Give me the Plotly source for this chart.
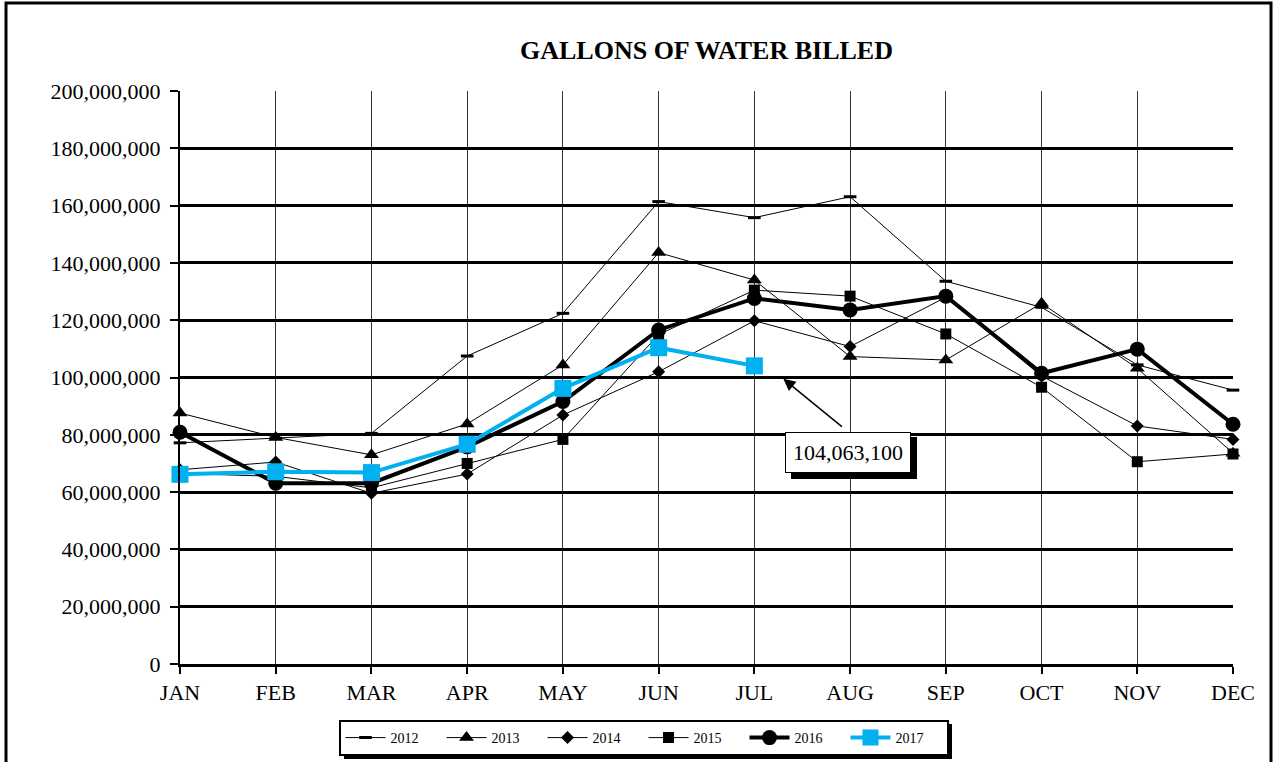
import plotly.graph_objects as go

months = ["JAN", "FEB", "MAR", "APR", "MAY", "JUN", "JUL", "AUG", "SEP", "OCT", "NOV", "DEC"]

v2012 = [77.2, 78.8, 80.5, 107.5, 122.4, 161.4, 155.8, 163.1, 133.6, 124.5, 104.4, 95.6]
v2013 = [87.6, 79.1, 73.0, 83.8, 104.4, 143.6, 134.0, 107.3, 106.1, 125.9, 103.2, 73.6]
v2014 = [67.8, 70.5, 59.6, 66.3, 86.9, 102.0, 119.8, 110.8, 128.0, 100.5, 83.1, 78.4]
v2015 = [66.5, 65.5, 61.5, 70.0, 78.4, 115.0, 130.5, 128.4, 115.2, 96.6, 70.6, 73.3]
v2016 = [80.9, 63.1, 63.1, 75.8, 91.6, 116.6, 127.6, 123.6, 128.4, 101.5, 109.9, 83.7]
v2017 = [66.2, 67.1, 66.8, 76.7, 96.2, 110.4, 104.0631]

annot_value = 104063100

FONT = "Liberation Serif"
BLUE = "#00B0F0"

def gal(vals):
    return [v * 1e6 for v in vals]

series = [
    ("2012", v2012, dict(symbol="line-ew", size=9, line=dict(width=3, color="black"), color="black"), dict(color="black", width=1)),
    ("2013", v2013, dict(symbol="triangle-up", size=13, color="black"), dict(color="black", width=1)),
    ("2014", v2014, dict(symbol="diamond", size=10, color="black"), dict(color="black", width=1)),
    ("2015", v2015, dict(symbol="square", size=11, color="black"), dict(color="black", width=1)),
    ("2016", v2016, dict(symbol="circle", size=15, color="black"), dict(color="black", width=4)),
    ("2017", v2017, dict(symbol="square", size=17, color=BLUE), dict(color=BLUE, width=4)),
]

fig = go.Figure()
for name, vals, mk, ln in series:
    fig.add_trace(go.Scatter(
        x=list(range(len(vals))), y=gal(vals), name=name, mode="lines+markers",
        marker=mk, line=ln, cliponaxis=False,
    ))

W, H = 1274, 762
L, R, T, B = 180, 1233, 91, 664

def px_x(p):
    return (p - L) / (R - L)
def px_y(p):
    return (B - p) / (B - T)

# page border
fig.add_shape(type="rect", xref="paper", yref="paper",
              x0=px_x(6), x1=px_x(1271), y0=px_y(790), y1=px_y(3),
              line=dict(color="black", width=3), fillcolor="rgba(0,0,0,0)", layer="below")
# legend shadow
fig.add_shape(type="rect", xref="paper", yref="paper",
              x0=px_x(344), x1=px_x(952), y0=px_y(759), y1=px_y(724),
              line=dict(width=0), fillcolor="black", layer="below")
# annotation box shadow
fig.add_shape(type="rect", xref="paper", yref="paper",
              x0=px_x(791), x1=px_x(917), y0=px_y(479), y1=px_y(437),
              line=dict(width=0), fillcolor="black", layer="above")

# annotation box
box_x = 6 + (848 - 754) / 95.7
box_y = (664 - 452) / 2.865 * 1e6
fig.add_annotation(x=box_x, y=box_y, xref="x", yref="y", text=f"{annot_value:,}",
                   showarrow=False, font=dict(family=FONT, size=22, color="black"),
                   bgcolor="white", bordercolor="black", borderwidth=1, borderpad=7)
# arrow
fig.add_annotation(x=6, y=annot_value, xref="x", yref="y", text="",
                   showarrow=True, arrowhead=2, arrowsize=1.6, arrowwidth=1.5, arrowcolor="black",
                   xshift=29, yshift=-13, ax=60, ay=49, standoff=0)

fig.update_layout(
    width=W, height=H,
    paper_bgcolor="white", plot_bgcolor="white",
    margin=dict(l=L, r=W - R, t=T, b=H - B, autoexpand=False),
    title=dict(text="GALLONS OF WATER BILLED", x=0.5, xref="paper", xanchor="center",
               y=1 - 50 / H, yanchor="middle",
               font=dict(family=FONT, size=26, color="black", weight="bold")),
    font=dict(family=FONT, color="black"),
    showlegend=True,
    legend=dict(orientation="h", x=(335 + 952) / 2 / W,
                xref="container", xanchor="center",
                y=1 - 720 / H, yref="container", yanchor="top",
                bordercolor="black", borderwidth=2, bgcolor="white",
                font=dict(family=FONT, size=14, color="black"),
                entrywidth=46, entrywidthmode="pixels", itemwidth=40,
                traceorder="normal"),
    xaxis=dict(range=[0, 11], tickvals=list(range(12)), ticktext=months,
               showgrid=True, gridcolor="#333333", gridwidth=1,
               showline=True, linecolor="black", linewidth=3,
               ticks="outside", ticklen=7, tickwidth=2, tickcolor="black",
               ticklabelstandoff=0,
               tickfont=dict(family=FONT, size=22, color="black"), zeroline=False),
    yaxis=dict(range=[0, 200e6], dtick=20e6, tickformat=",d",
               showgrid=True, gridcolor="black", gridwidth=2.5,
               showline=True, linecolor="black", linewidth=2,
               ticks="outside", ticklen=8, tickwidth=2, tickcolor="black",
               ticklabelstandoff=5,
               tickfont=dict(family=FONT, size=22, color="black"), zeroline=False),
)

fig.write_html("out.html", config={"displayModeBar": False},
               post_script="document.body.style.margin='0';document.body.style.overflow='hidden';")
